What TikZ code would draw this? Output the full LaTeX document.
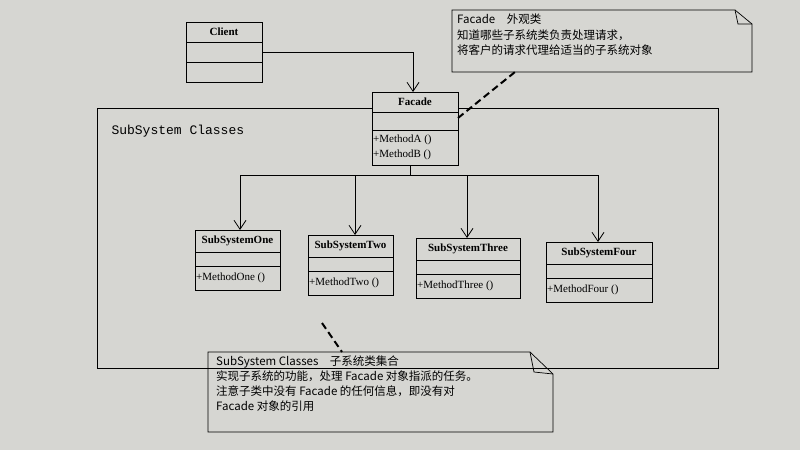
\documentclass[tikz,border=0pt]{standalone}
\usepackage{fontspec}
\setmainfont{Liberation Serif}
\setmonofont{Liberation Mono}
\newfontfamily\cjk{Noto Sans CJK SC}
\usetikzlibrary{arrows.meta}
\definecolor{paper}{RGB}{214,214,210}
\tikzset{
  cls/.style={draw,line width=0.9pt,inner sep=0pt},
  lbl/.style={font=\bfseries\fontsize{11}{12}\selectfont},
  mth/.style={font=\fontsize{11}{12}\selectfont,anchor=west,inner sep=1pt},
  assoc/.style={line width=0.8pt,-{Straight Barb[length=9pt,width=12pt]}},
  anchorline/.style={line width=2pt,dash pattern=on 7pt off 4pt},
  note/.style={draw,line width=0.7pt},
  notetext/.style={anchor=north west,align=left,font=\cjk\fontsize{11.5}{15.5}\selectfont,inner sep=2pt}
}
\begin{document}
\begin{tikzpicture}[x=1pt,y=-1pt]
\fill[paper] (0,0) rectangle (800,450);
\useasboundingbox (0,0) rectangle (800,450);
% package
\draw[line width=0.9pt] (97,108) rectangle (718,368);
\node[font=\ttfamily\fontsize{13}{14}\selectfont,anchor=west] (pkg) at (108,131) {SubSystem Classes};
% client
\draw[cls] (186,22) rectangle (262,82);
\draw[line width=0.9pt] (186,42) -- (262,42) (186,62) -- (262,62);
\node[lbl] (client) at (224,32) {Client};
\coordinate (cr) at (262,52);
% facade
\fill[paper] (372,92) rectangle (458,165);
\draw[cls] (372,92) rectangle (458,165);
\draw[line width=0.9pt] (372,112) -- (458,112) (372,130) -- (458,130);
\node[lbl] (facade) at (415,102) {Facade};
\node[mth] (ma) at (372,140) {+MethodA ()};
\node[mth] (mb) at (372,155) {+MethodB ()};
\coordinate (ft) at (413,92);
\coordinate (fb) at (410,165);
\draw[assoc] (cr) -| (ft);
% subsystems
\foreach \n/\t/\xa/\xb/\ya/\m in {one/SubSystemOne/195/280/230/MethodOne,two/SubSystemTwo/308/393/235/MethodTwo,three/SubSystemThree/416/520/238/MethodThree,four/SubSystemFour/546/652/242/MethodFour}{
  \draw[cls] (\xa,\ya) rectangle (\xb,\ya+60);
  \draw[line width=0.9pt] (\xa,\ya+22) -- (\xb,\ya+22) (\xa,\ya+36) -- (\xb,\ya+36);
  \node[lbl] (\n) at ({(\xa+\xb)/2},\ya+11) {\t};
  \node[mth] (\n m) at (\xa,\ya+48) {+\m\ ()};
  \coordinate (\n t) at ({(\xa+\xb)/2},\ya);
}
\coordinate (j) at (410,175);
\draw[line width=0.8pt] (fb) -- (j);
\draw[line width=0.8pt] (240,175) -- (598,175);
\foreach \n/\x in {one/240,two/355,three/467,four/598}
  \draw[assoc] (\x,175) -- (\x,230 |- \n t);
% facade note
\draw[note] (452,10) -- (735,10) -- (752,24) -- (752,72) -- (452,72) -- cycle;
\draw[note] (735,10) -- (738,24) -- (752,24);
\node[notetext] (fn) at (455,12) {Facade\quad 外观类\\知道哪些子系统类负责处理请求，\\将客户的请求代理给适当的子系统对象};
\draw[anchorline] (458,118) -- (515,72);
% subsystem note
\draw[note] (208,352) -- (530,352) -- (553,374) -- (553,432) -- (208,432) -- cycle;
\draw[note] (530,352) -- (534,372) -- (553,374);
\node[notetext,font=\cjk\fontsize{11.5}{15}\selectfont] (sn) at (214,354) {SubSystem Classes\quad 子系统类集合\\实现子系统的功能，处理 Facade 对象指派的任务。\\注意子类中没有 Facade 的任何信息，即没有对\\Facade 对象的引用};
\draw[anchorline] (322,323) -- (342,352);
\end{tikzpicture}
\end{document}
